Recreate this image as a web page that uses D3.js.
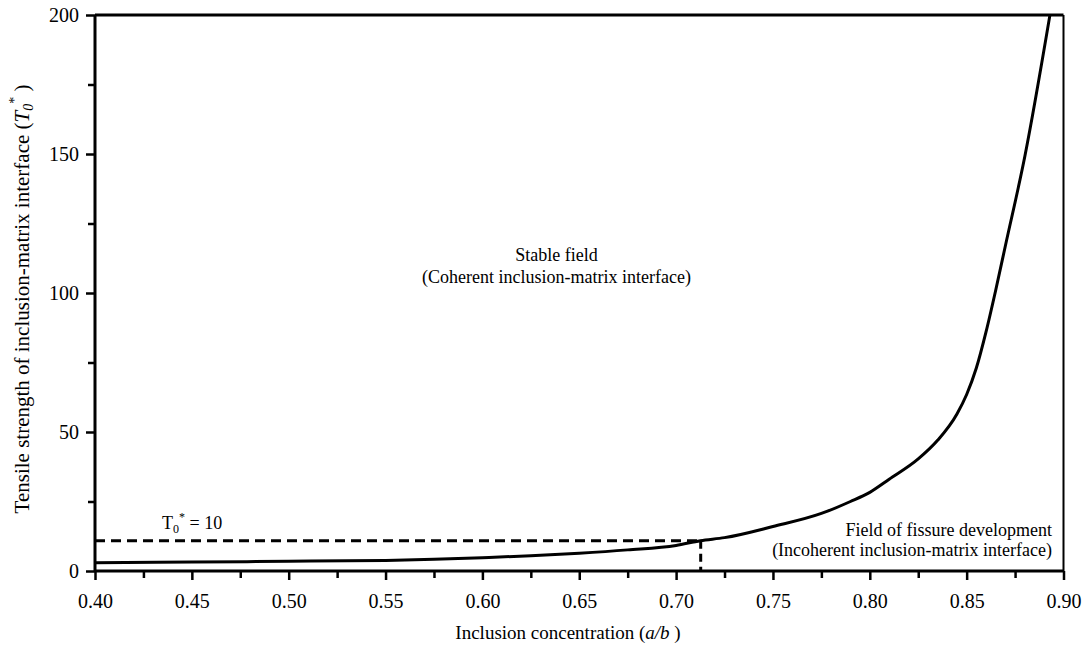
<!DOCTYPE html>
<html>
<head>
<meta charset="utf-8">
<script src="https://cdn.jsdelivr.net/npm/d3@7"></script>
<style>
  html, body { margin: 0; padding: 0; background: #fff; }
  svg { display: block; }
  text { font-family: "Liberation Serif", "Times New Roman", serif; fill: #000; }
</style>
</head>
<body>
<svg id="chart" width="1086" height="654"></svg>
<script>
// ---- data ----
const concentration = [0.40, 0.45, 0.50, 0.55, 0.575, 0.60, 0.625, 0.65, 0.675, 0.70, 0.7125, 0.725, 0.75, 0.775, 0.79, 0.80, 0.81, 0.825, 0.835, 0.845, 0.85, 0.855, 0.86, 0.865, 0.87, 0.88, 0.893];
const strength      = [3.0, 3.2, 3.5, 3.8, 4.2, 4.8, 5.5, 6.4, 7.6, 9.2, 10.9, 12.0, 16.0, 20.7, 25.0, 28.3, 33.0, 40.3, 47.0, 56.5, 63.5, 73.0, 86.0, 101.0, 117.0, 149.0, 200.0];
const xMajorTicks = [0.40, 0.45, 0.50, 0.55, 0.60, 0.65, 0.70, 0.75, 0.80, 0.85, 0.90];
const xMinorTicks = [0.425, 0.475, 0.525, 0.575, 0.625, 0.675, 0.725, 0.775, 0.825, 0.875];
const yMajorTicks = [0, 50, 100, 150, 200];
const yMinorTicks = [25, 75, 125, 175];
const thresholdLevel = 10.9;      // T0* = 10 dashed line level
const thresholdConc = 0.7127;     // concentration where curve meets it
const xDomain = [0.40, 0.90];
const yDomain = [0, 200];

(function () {
const svg = d3.select("#chart");
const pL = 95, pR = 1063.5, pT = 15, pB = 571;
const x = d3.scaleLinear().domain(xDomain).range([pL, pR]);
const y = d3.scaleLinear().domain(yDomain).range([pB, pT]);

svg.append("defs").append("clipPath").attr("id", "plotclip")
  .append("rect").attr("x", pL).attr("y", pT).attr("width", pR - pL).attr("height", pB - pT);

// top & right frame
svg.append("line").attr("x1", pL).attr("x2", pR).attr("y1", pT).attr("y2", pT)
  .attr("stroke", "#000").attr("stroke-width", 3);
svg.append("line").attr("x1", pR).attr("x2", pR).attr("y1", pT).attr("y2", pB)
  .attr("stroke", "#000").attr("stroke-width", 2);

// axes
const gx = svg.append("g").attr("transform", `translate(0,${pB})`)
  .call(d3.axisBottom(x).tickValues(xMajorTicks).tickFormat(d3.format(".2f")).tickSize(9).tickPadding(14));
const gxm = svg.append("g").attr("transform", `translate(0,${pB})`)
  .call(d3.axisBottom(x).tickValues(xMinorTicks).tickFormat("").tickSize(7));
const gy = svg.append("g").attr("transform", `translate(${pL},0)`)
  .call(d3.axisLeft(y).tickValues(yMajorTicks).tickFormat(d3.format("d")).tickSize(9).tickPadding(7));
const gym = svg.append("g").attr("transform", `translate(${pL},0)`)
  .call(d3.axisLeft(y).tickValues(yMinorTicks).tickFormat("").tickSize(7));

[gx, gxm, gy, gym].forEach(g => {
  g.select(".domain").attr("stroke", "#000").attr("stroke-width", 3);
  g.selectAll(".tick line").attr("stroke", "#000").attr("stroke-width", 2.5);
  g.selectAll(".tick text").attr("font-size", 20).attr("font-family", '"Liberation Serif", "Times New Roman", serif').attr("fill", "#000");
});
gxm.select(".domain").remove();
gym.select(".domain").remove();
gx.select(".domain").attr("d", `M${pL},0H${pR}`);
gy.select(".domain").attr("d", `M0,${pB}V${pT}`);

// dashed threshold lines
svg.append("line")
  .attr("x1", x(xDomain[0])).attr("x2", x(thresholdConc))
  .attr("y1", y(thresholdLevel)).attr("y2", y(thresholdLevel))
  .attr("stroke", "#000").attr("stroke-width", 3).attr("stroke-dasharray", "10,6");
svg.append("line")
  .attr("x1", x(thresholdConc)).attr("x2", x(thresholdConc))
  .attr("y1", y(thresholdLevel)).attr("y2", y(0))
  .attr("stroke", "#000").attr("stroke-width", 3).attr("stroke-dasharray", "8,5");

// curve
const pts = concentration.map((c, i) => [c, strength[i]]);
svg.append("path")
  .datum(pts)
  .attr("clip-path", "url(#plotclip)")
  .attr("fill", "none").attr("stroke", "#000").attr("stroke-width", 3)
  .attr("d", d3.line().x(d => x(d[0])).y(d => y(d[1])).curve(d3.curveMonotoneX));

// annotations
svg.append("text").attr("x", 556.5).attr("y", 261).attr("text-anchor", "middle").attr("font-size", 18).text("Stable field");
svg.append("text").attr("x", 556.5).attr("y", 283).attr("text-anchor", "middle").attr("font-size", 18).text("(Coherent inclusion-matrix interface)");
svg.append("text").attr("x", 1052).attr("y", 535.5).attr("text-anchor", "end").attr("font-size", 18).text("Field of fissure development");
svg.append("text").attr("x", 1052).attr("y", 556).attr("text-anchor", "end").attr("font-size", 18).text("(Incoherent inclusion-matrix interface)");

const tLab = svg.append("text").attr("x", 162).attr("y", 529).attr("font-size", 18);
tLab.append("tspan").text("T");
tLab.append("tspan").attr("font-size", 12).attr("dy", 4).text("0");
tLab.append("tspan").attr("font-size", 12).attr("dy", -12).text("*");
tLab.append("tspan").attr("dy", 8).text(" = 10");

// x axis title
const xt = svg.append("text").attr("x", 568).attr("y", 639).attr("text-anchor", "middle").attr("font-size", 19);
xt.append("tspan").text("Inclusion concentration (");
xt.append("tspan").attr("font-style", "italic").text("a/b");
xt.append("tspan").text(" )");

// y axis title
const yt = svg.append("text").attr("transform", `translate(29,299) rotate(-90)`).attr("text-anchor", "middle").attr("font-size", 21);
yt.append("tspan").text("Tensile strength of inclusion-matrix interface (");
yt.append("tspan").attr("font-style", "italic").text("T");
yt.append("tspan").attr("font-style", "italic").attr("font-size", 14).attr("dy", 4).text("0");
yt.append("tspan").attr("font-size", 14).attr("dy", -14).text("*");
yt.append("tspan").attr("dy", 10).text(" )");
})();
</script>
</body>
</html>
